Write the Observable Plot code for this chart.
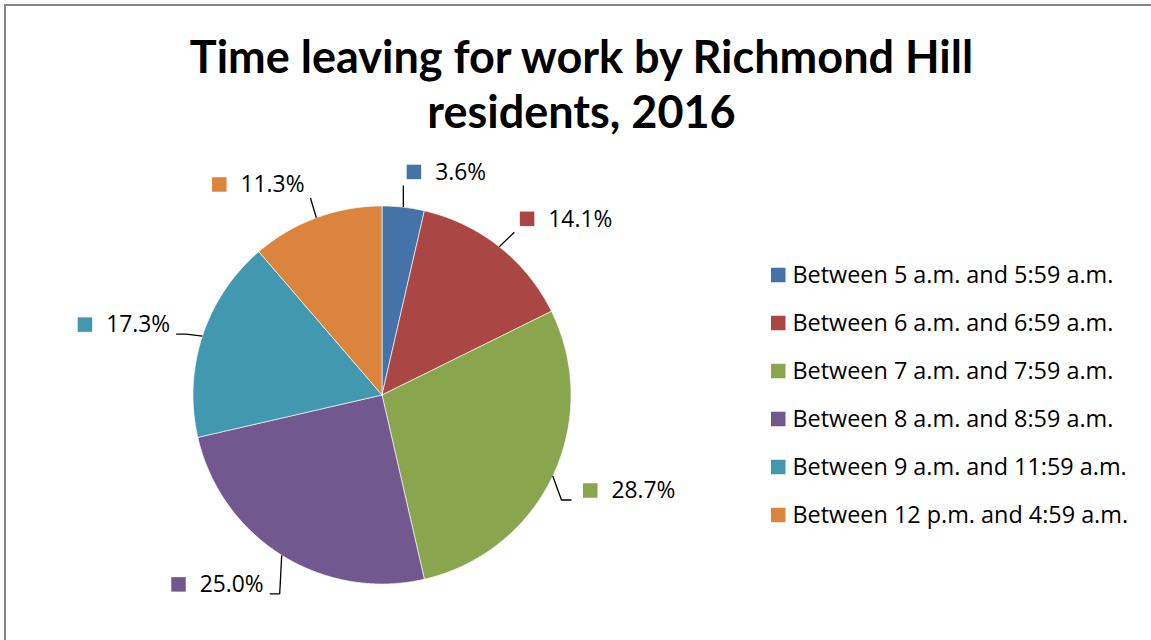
<!DOCTYPE html>
<html>
<head>
<meta charset="utf-8">
<script src="https://cdn.jsdelivr.net/npm/d3@7"></script>
<script src="https://cdn.jsdelivr.net/npm/@observablehq/plot@0.6"></script>
<style>
  html, body { margin: 0; padding: 0; background: #fff; overflow: hidden; }
  #wrap { position: relative; width: 1151px; height: 640px; overflow: hidden; background: #fff; }
  #chart { position: absolute; left: 0; top: 0; }
  #frame { position: absolute; left: 3.5px; top: 3.5px; width: 1300px; height: 800px;
           border-left: 2px solid #868686; border-top: 2px solid #868686; pointer-events: none; }
  #title { position: absolute; left: 0; width: 1163px; top: 29px; text-align: center;
           font-family: Lato, "Liberation Sans", sans-serif; font-weight: bold; font-size: 45px;
           line-height: 55px; color: #000; }
</style>
</head>
<body>
<div id="wrap">
  <div id="chart"></div>
  <div id="title">Time leaving for work by Richmond Hill<br>residents, 2016</div>
  <div id="frame"></div>
</div>
<script>
// ---- data ----
const categories = [
  "Between 5 a.m. and 5:59 a.m.",
  "Between 6 a.m. and 6:59 a.m.",
  "Between 7 a.m. and 7:59 a.m.",
  "Between 8 a.m. and 8:59 a.m.",
  "Between 9 a.m. and 11:59 a.m.",
  "Between 12 p.m. and 4:59 a.m."
];
const shares = [3.6, 14.1, 28.7, 25.0, 17.3, 11.3];
const shareLabels = ["3.6%", "14.1%", "28.7%", "25.0%", "17.3%", "11.3%"];
const colors = ["#4572A7", "#AA4643", "#89A54E", "#71588F", "#4198AF", "#DB843D"];

// ---- layout ----
const W = 1151, H = 640;
const CX = 381.5, CY = 394.5, R = 189;
const FONT = "'Open Sans'";
const LABEL_FS = 22.8, LEGEND_FS = 23.4;
const SQ = 14.5;               // marker square side
const LABEL_TEXT_OFF = 28;     // text start relative to square left (labels)
const LEG_SQ_LEFT = 771 - CX, LEG_TEXT_X = 792 - CX, LEG_Y0 = 275 - CY, LEG_STEP = 48;
const DX = 34, DY = 35, HH = 8, PADX = 6, PADY = 5, ELBOW = 10;

const ctx = document.createElement("canvas").getContext("2d");
function textWidth(s, fs) { ctx.font = `${fs}px ${FONT}`; return ctx.measureText(s).width; }

// ---- pie geometry (pixels relative to pie centre, y down) ----
const total = d3.sum(shares);
let acc = 0;
const slices = shares.map((v, i) => {
  const a0 = acc / total * 2 * Math.PI; acc += v;
  const a1 = acc / total * 2 * Math.PI;
  return {i, a0, a1, mid: (a0 + a1) / 2};
});

const piePts = [];
for (const s of slices) {
  piePts.push({k: s.i, x: 0, y: 0});
  const n = Math.max(2, Math.ceil((s.a1 - s.a0) / (Math.PI / 360)));
  for (let j = 0; j <= n; j++) {
    const a = s.a0 + (s.a1 - s.a0) * j / n;
    piePts.push({k: s.i, x: R * Math.sin(a), y: -R * Math.cos(a)});
  }
  piePts.push({k: s.i, x: 0, y: 0});
}

// ---- data labels ----
const clamp = (v, a, b) => Math.max(a, Math.min(b, v));
const labelBoxes = [], leaderPts = [];
for (const s of slices) {
  const sn = Math.sin(s.mid), cs = Math.cos(s.mid);
  const ax = R * sn, ay = -R * cs;
  const tw = textWidth(shareLabels[s.i], LABEL_FS);
  const hw = (LABEL_TEXT_OFF + tw) / 2;
  const lx = ax + hw * Math.sign(sn) + DX * sn;
  const ly = ay - DY * cs;
  const left = lx - hw, right = lx + hw, top = ly - HH, bottom = ly + HH;
  labelBoxes.push({i: s.i, left, cy: ly, text: shareLabels[s.i]});
  leaderPts.push({k: s.i, x: ax, y: ay});
  if (cs < 0.5) {
    // side / lower labels: leader with a short horizontal shoulder at the label's lower edge
    const ex = sn > 0 ? left - 2 * PADX : right + PADX;
    const ey = bottom + 1;
    let bx = ex - Math.sign(sn) * ELBOW;
    if ((bx - ax) * Math.sign(sn) < 0) bx = ax;
    leaderPts.push({k: s.i, x: bx, y: ey});
    leaderPts.push({k: s.i, x: ex, y: ey});
  } else {
    // upper labels: straight leader to the nearest point of the label box
    leaderPts.push({k: s.i, x: clamp(ax, left - PADX, right + PADX), y: clamp(ay, top - PADY, bottom + PADY)});
  }
}

// ---- legend ----
const legend = categories.map((c, i) => ({c, y: LEG_Y0 + i * LEG_STEP}));

const chart = Plot.plot({
  width: W, height: H,
  margin: 0,
  style: {background: "transparent", fontFamily: "Open Sans", color: "#000", overflow: "visible"},
  x: {domain: [-CX, W - CX], range: [0, W], axis: null},
  y: {domain: [-CY, H - CY], range: [0, H], axis: null},
  color: {domain: categories, range: colors},
  marks: [
    Plot.line(piePts, {x: "x", y: "y", z: "k", fill: d => categories[d.k],
      stroke: "#ffffff", strokeWidth: 0.8, strokeOpacity: 0.8, strokeLinejoin: "round", curve: "linear"}),
    Plot.line(leaderPts, {x: "x", y: "y", z: "k", stroke: "#000", strokeWidth: 1.3,
      strokeLinecap: "butt", strokeLinejoin: "miter"}),
    Plot.rect(labelBoxes, {x1: d => d.left, x2: d => d.left + SQ, y1: d => d.cy - SQ / 2, y2: d => d.cy + SQ / 2,
      fill: d => categories[d.i]}),
    Plot.text(labelBoxes, {x: d => d.left + LABEL_TEXT_OFF, y: "cy", text: "text", textAnchor: "start",
      lineAnchor: "middle", fontSize: LABEL_FS, fill: "#000"}),
    Plot.rect(legend, {x1: LEG_SQ_LEFT, x2: LEG_SQ_LEFT + SQ, y1: d => d.y - SQ / 2, y2: d => d.y + SQ / 2,
      fill: "c"}),
    Plot.text(legend, {x: LEG_TEXT_X, y: "y", text: "c", textAnchor: "start", lineAnchor: "middle",
      fontSize: LEGEND_FS, fill: "#000"})
  ]
});
document.getElementById("chart").appendChild(chart);
</script>
</body>
</html>
